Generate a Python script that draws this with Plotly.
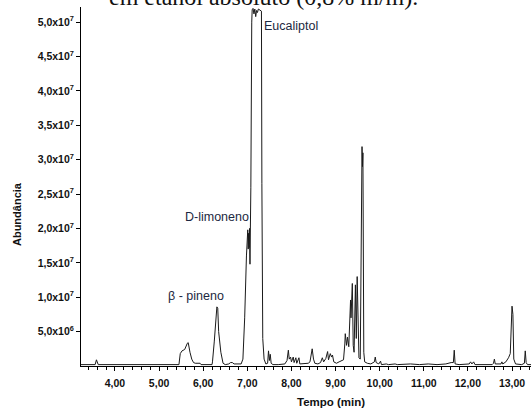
import plotly.graph_objects as go

# Chromatogram: retention time (min) and abundance (x1e6 counts)
tempo = [
    3.23, 3.55, 3.58, 3.60, 3.62, 5.45, 5.48, 5.52, 5.58, 5.64, 5.66, 5.70, 5.74, 5.78, 5.82, 5.93, 5.95,
    6.20, 6.21, 6.25, 6.28, 6.31, 6.33, 6.35, 6.40, 6.45, 6.50, 6.58, 6.62, 6.66, 6.70, 6.86, 6.90,
    6.94, 6.98, 7.00, 7.01, 7.02, 7.03, 7.04, 7.05, 7.06, 7.08, 7.10, 7.11, 7.13, 7.15, 7.17, 7.19,
    7.21, 7.23, 7.25, 7.28, 7.32, 7.33, 7.35, 7.38, 7.42, 7.46, 7.48, 7.50, 7.52, 7.54, 7.58, 7.70,
    7.85, 7.90, 7.93, 7.95, 7.98, 8.00, 8.04, 8.06, 8.10, 8.12, 8.17, 8.19, 8.30, 8.38, 8.42, 8.47,
    8.50, 8.53, 8.60, 8.66, 8.70, 8.73, 8.78, 8.82, 8.84, 8.88, 8.91, 8.93, 8.96, 9.02, 9.08, 9.14,
    9.18, 9.21, 9.22, 9.25, 9.27, 9.30, 9.32, 9.34, 9.35, 9.36, 9.38, 9.40, 9.42, 9.45, 9.47, 9.49,
    9.51, 9.53, 9.56, 9.58, 9.60, 9.61, 9.62, 9.64, 9.66, 9.72, 9.80, 9.88, 9.90, 9.92, 9.98, 10.02,
    10.04, 10.15, 10.20, 10.35, 10.40, 10.70, 10.90, 11.10, 11.30, 11.50, 11.55, 11.62, 11.67, 11.69,
    11.71, 11.80, 12.03, 12.06, 12.09, 12.13, 12.16, 12.55, 12.58, 12.60, 12.62, 12.75, 12.77, 12.79,
    12.86, 12.92, 12.96, 12.98, 13.00, 13.02, 13.04, 13.08, 13.22, 13.28, 13.30, 13.32, 13.35, 13.43,
]
abundancia_e6 = [
    0.2, 0.2, 0.9, 0.3, 0.2, 0.2, 1.8, 2.2, 2.4, 3.3, 3.4, 2.0, 1.0, 0.5, 0.4, 0.4, 0.2,
    0.2, 0.6, 3.5, 5.5, 8.6, 8.4, 5.0, 2.0, 0.4, 0.2, 0.3, 0.5, 0.5, 0.3, 0.3, 1.0,
    7.0, 16.0, 18.5, 19.8, 17.0, 19.3, 17.2, 20.0, 14.8, 26.0, 50.0, 51.8, 52.0, 51.2, 51.9, 50.8,
    51.7, 51.4, 51.9, 51.8, 51.6, 26.5, 4.0, 1.0, 0.3, 0.4, 2.2, 0.8, 1.7, 0.4, 0.2, 0.2,
    0.3, 0.8, 2.3, 1.0, 1.3, 0.6, 1.3, 0.5, 1.2, 0.4, 1.2, 0.3, 0.3, 0.4, 0.6, 2.5,
    1.0, 0.4, 0.3, 0.5, 1.2, 0.6, 1.1, 2.1, 0.9, 1.8, 1.3, 1.6, 0.6, 0.4, 0.6, 0.8,
    0.9, 3.2, 4.7, 3.0, 4.2, 2.8, 6.0, 9.6, 7.0, 10.0, 12.0, 3.0, 2.0, 11.8, 4.0, 13.0,
    6.0, 1.2, 1.0, 20.0, 31.9, 29.0, 31.0, 2.0, 0.6, 0.4, 0.3, 0.6, 1.3, 0.5, 0.3, 0.7,
    0.2, 0.3, 0.2, 0.3, 0.2, 0.3, 0.2, 0.3, 0.2, 0.3, 0.4, 0.5, 0.5, 2.3,
    0.3, 0.2, 0.3, 0.6, 0.3, 0.6, 0.2, 0.2, 0.4, 1.0, 0.3, 0.3, 0.6, 0.3,
    0.6, 1.2, 1.8, 5.0, 8.7, 7.5, 1.0, 0.3, 0.2, 0.4, 2.2, 0.5, 0.2, 0.2,
]
abundancia = [v * 1e6 for v in abundancia_e6]

x_tick_vals = [4, 5, 6, 7, 8, 9, 10, 11, 12, 13]
x_tick_text = ["4,00", "5,00", "6,00", "7,00", "8,00", "9,00", "10,00", "11,00", "12,00", "13,00"]
y_tick_vals = [5e6, 1e7, 1.5e7, 2e7, 2.5e7, 3e7, 3.5e7, 4e7, 4.5e7, 5e7]
y_tick_text = ["5,0x10<sup>6</sup>", "1,0x10<sup>7</sup>", "1,5x10<sup>7</sup>", "2,0x10<sup>7</sup>",
               "2,5x10<sup>7</sup>", "3,0x10<sup>7</sup>", "3,5x10<sup>7</sup>", "4,0x10<sup>7</sup>",
               "4,5x10<sup>7</sup>", "5,0x10<sup>7</sup>"]

picos = ["Eucaliptol", "D-limoneno", "β - pineno"]
picos_t = [8.0, 6.31, 5.84]
picos_y = [49.5e6, 21.7e6, 10.2e6]

titulo = "em etanol absoluto (0,8% m/m)."

x_range = [3.23, 13.43]
y_range = [0, 52.2e6]
minor_x = [round(3.4 + 0.2 * i, 2) for i in range(51) if 3.4 + 0.2 * i <= 13.43]

sans = "Liberation Sans, Arial, sans-serif"
txt_col = "#1c2841"

fig = go.Figure()
fig.add_trace(go.Scatter(x=tempo, y=abundancia, mode="lines",
                         line=dict(color="#1a1a1a", width=1), showlegend=False,
                         hoverinfo="skip"))

for name, t, y in zip(picos, picos_t, picos_y):
    fig.add_annotation(x=t, y=y, xref="x", yref="y", text=name, showarrow=False,
                       font=dict(family=sans, size=12.5, color=txt_col))

# y-axis title
fig.add_annotation(x=0, xref="paper", xshift=-72, y=22.1e6, yref="y", text="Abundância",
                   textangle=-90, showarrow=False,
                   font=dict(family=sans, size=11, color="#111", weight="bold"))
# x-axis title
fig.add_annotation(x=8.9, xref="x", y=0, yref="paper", yshift=-44, text="Tempo (min)",
                   showarrow=False, font=dict(family=sans, size=11.5, color="#111", weight="bold"))
# clipped caption text above the chart
fig.add_annotation(x=0.4056, xref="paper", y=1, yref="paper", yanchor="middle", yshift=10.5,
                   text=titulo, showarrow=False,
                   font=dict(family="Liberation Serif, Times New Roman, serif", size=24, color="#111"))

fig.update_layout(
    width=531, height=409,
    margin=dict(l=81, r=0, t=7, b=43),
    paper_bgcolor="white", plot_bgcolor="white",
    xaxis=dict(range=x_range, tickmode="array", tickvals=x_tick_vals, ticktext=x_tick_text,
               showgrid=False, zeroline=False, showline=True, linecolor="black", linewidth=1,
               ticks="outside", ticklen=4, tickcolor="black", tickwidth=1,
               ticklabelstandoff=3,
               tickfont=dict(family=sans, size=10.5, color="#111", weight="bold"),
               minor=dict(tickvals=minor_x, ticks="outside", ticklen=3, tickcolor="black",
                          tickwidth=1, showgrid=False)),
    yaxis=dict(range=y_range, tickmode="array", tickvals=y_tick_vals, ticktext=y_tick_text,
               showgrid=False, zeroline=False, showline=True, linecolor="black", linewidth=1,
               ticks="outside", ticklen=4, tickcolor="black", tickwidth=1,
               tickfont=dict(family=sans, size=10.5, color="#111", weight="bold")),
)

fig.write_html("out.html")
